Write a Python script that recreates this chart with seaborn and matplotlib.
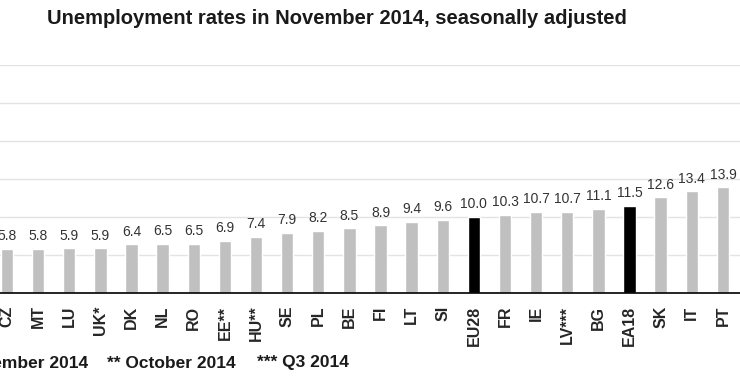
import matplotlib
matplotlib.use('Agg')
import matplotlib.pyplot as plt
import seaborn as sns
import pandas as pd
import numpy as np

# Data
countries = ['CZ', 'MT', 'LU', 'UK*', 'DK', 'NL', 'RO', 'EE**', 'HU**', 'SE', 'PL', 'BE',
             'FI', 'LT', 'SI', 'EU28', 'FR', 'IE', 'LV***', 'BG', 'EA18', 'SK', 'IT', 'PT']
rates = [5.8, 5.8, 5.9, 5.9, 6.4, 6.5, 6.5, 6.9, 7.4, 7.9, 8.2, 8.5,
         8.9, 9.4, 9.6, 10.0, 10.3, 10.7, 10.7, 11.1, 11.5, 12.6, 13.4, 13.9]
aggregates = ['EU28', 'EA18']
footnotes = ['* November 2014', '** October 2014', '*** Q3 2014']
title = 'Unemployment rates in November 2014, seasonally adjusted'

df = pd.DataFrame({'country': countries, 'rate': rates})
palette = {c: ('#000000' if c in aggregates else '#c0c0c0') for c in countries}

sns.set_style('white')
plt.rcParams['font.family'] = ['Liberation Sans', 'DejaVu Sans']

W, H = 740, 389
fig = plt.figure(figsize=(W / 100, H / 100), dpi=100)
ax = fig.add_axes([0, (H - 293) / H, 1, (293 - 65) / H])

sns.barplot(data=df, x='country', y='rate', hue='country', palette=palette,
            width=0.4, legend=False, ax=ax, saturation=1)

# value labels
for i, v in enumerate(rates):
    ax.annotate(f'{v:.1f}', (i, v), xytext=(0, 4), textcoords='offset points',
                ha='center', va='bottom', fontsize=10, color='#333333')

ax.set_ylim(0, 30)
ax.set_xlim(-0.225, 23.55)
ax.set_yticks(np.arange(0, 31, 5))
ax.yaxis.grid(True, color='#e3e3e3', linewidth=1)
ax.set_axisbelow(True)
ax.tick_params(axis='y', left=False, labelleft=False)

ax.set_xticks(range(len(countries)))
ax.set_xticklabels(countries, rotation=90, fontsize=11.5, fontweight='bold')
ax.tick_params(axis='x', which='major', length=0, pad=9)
ax.set_xticks(np.arange(0.5, len(countries), 1), minor=True)
ax.tick_params(axis='x', which='minor', length=4, color='#999999', width=1)
ax.set_xlabel('')
ax.set_ylabel('')

for s in ['top', 'left', 'right']:
    ax.spines[s].set_visible(False)
ax.spines['bottom'].set_color('#000000')
ax.spines['bottom'].set_linewidth(1.2)

fig.text(337 / W, 1 - 18 / H, title, ha='center', va='center',
         fontsize=14.5, fontweight='bold', color='#1a1a1a')

fy = 1 - 363 / H
fig.text(88 / W, fy, footnotes[0], ha='right', va='center', fontsize=12.5, fontweight='bold', color='#1a1a1a')
fig.text(107 / W, fy, footnotes[1], ha='left', va='center', fontsize=12.5, fontweight='bold', color='#1a1a1a')
fig.text(257 / W, fy, footnotes[2], ha='left', va='center', fontsize=12.5, fontweight='bold', color='#1a1a1a')

fig.savefig('out.png', dpi=100)
